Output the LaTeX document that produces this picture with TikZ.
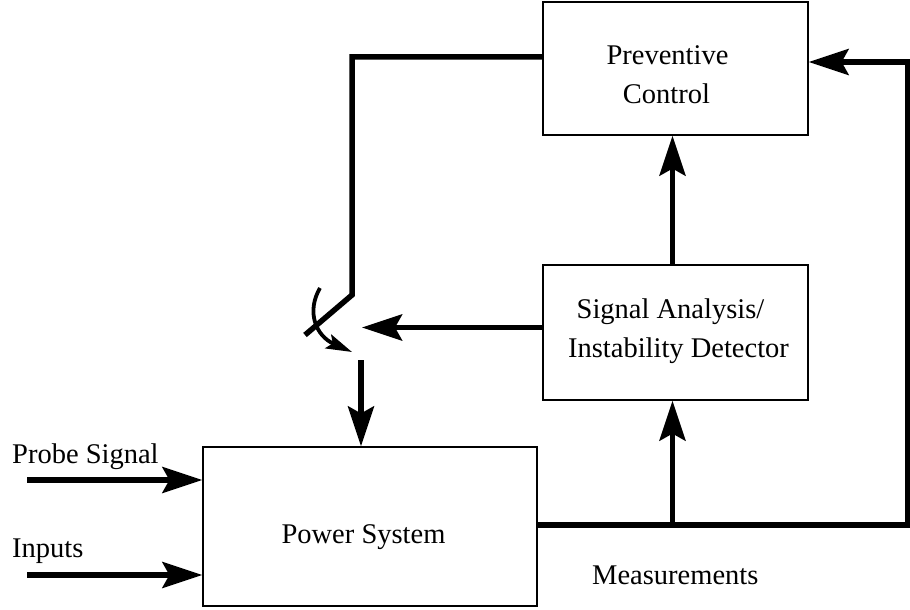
\documentclass[tikz,border=0pt]{standalone}
\usepackage{fontspec}
\setmainfont{Liberation Serif}
\usetikzlibrary{arrows.meta}
\begin{document}
\begin{tikzpicture}[x=1pt,y=-1pt,
  box/.style={draw,line width=1.2pt,rectangle,inner sep=0pt},
  wire/.style={line width=5.5pt},
  bigarrow/.style={wire,-{Stealth[length=40pt,width=26pt,inset=7pt]}},
  smallarrow/.style={line width=3.8pt,-{Stealth[length=26pt,width=15pt,inset=5pt]}},
  lbl/.style={inner sep=0pt,anchor=base},
  font=\fontsize{28.5}{38}\selectfont]
\useasboundingbox (0,0) rectangle (910,610);
\node[box,minimum width=265pt,minimum height=133pt] (pc) at (675.5,68.5) {};
\node[box,minimum width=265pt,minimum height=135pt] (sa) at (675.5,332.5) {};
\node[box,minimum width=334pt,minimum height=159pt] (ps) at (370,526.5) {};
\node[lbl] (pct1) at (667.5,65) {Preventive};
\node[lbl] (pct2) at (666.5,103) {Control};
\node[lbl] (sat1) at (670.5,318) {Signal Analysis/};
\node[lbl] (sat2) at (678.5,357) {Instability Detector};
\node[lbl] (pst) at (363.5,543) {Power System};
\node[lbl,anchor=base west] (lp) at (12,463) {Probe Signal};
\node[lbl,anchor=base west] (li) at (12,557) {Inputs};
\node[lbl,anchor=base west] (lm) at (592,584) {Measurements};
\coordinate (sw1) at (352,295);
\coordinate (sw2) at (305,335);
\coordinate (swin) at (362,327);
\coordinate (swout) at (361,360);
\coordinate (arc1) at (320,288);
\coordinate (arc2) at (352,352);
\coordinate (mr) at (908,525);
\coordinate (pin) at (27,480);
\coordinate (iin) at (27,575);
\draw[wire] ([yshift=11.5pt]pc.west) -| (sw1) -- (sw2);
\draw[smallarrow] (arc1) .. controls (306,312) and (316,336) .. (arc2);
\draw[bigarrow] ([yshift=5pt]sa.west) -- ([yshift=5pt]sa.west -| swin);
\draw[bigarrow] (swout) -- (swout |- ps.north);
\draw[bigarrow] ([xshift=-3pt]sa.north) -- ([xshift=-3pt]pc.south);
\draw[bigarrow] ([yshift=1.5pt]ps.east) -- ([yshift=1.5pt]ps.east -| mr) |- ([yshift=6.5pt]pc.east);
\draw[bigarrow] ([yshift=1.5pt,xshift=-3pt]ps.east -| sa.south) -- ([xshift=-3pt]sa.south);
\draw[bigarrow] (pin) -- (pin -| ps.west);
\draw[bigarrow] (iin) -- (iin -| ps.west);
\end{tikzpicture}
\end{document}
